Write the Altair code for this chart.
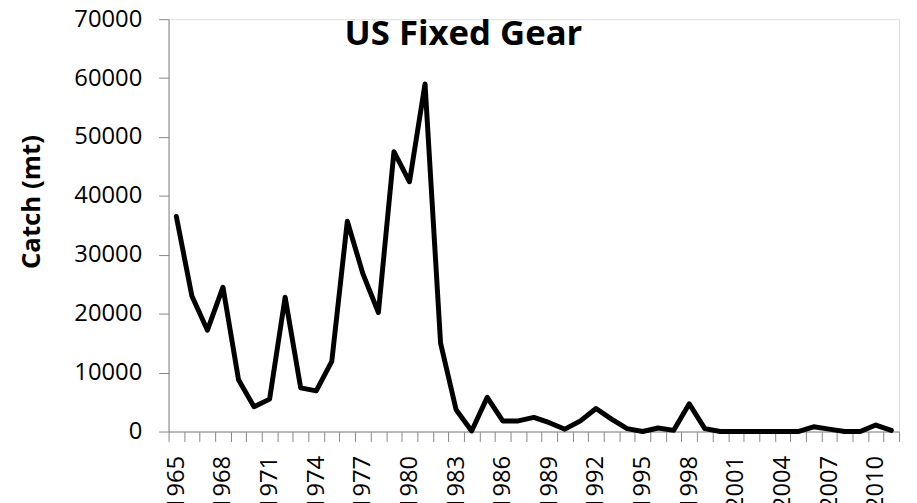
import altair as alt
import pandas as pd

years = list(range(1965, 2012))
catch_mt = [36500, 23000, 17200, 24500, 8800, 4200, 5500, 22800, 7400, 6900,
            11900, 35700, 26800, 20200, 47500, 42400, 59000, 15000, 3700, 100,
            5800, 1800, 1800, 2400, 1500, 400, 1800, 3900, 2100, 500,
            0, 600, 200, 4700, 500, 0, 0, 0, 0, 0,
            0, 800, 400, 0, 0, 1100, 200]
y_ticks = [0, 10000, 20000, 30000, 40000, 50000, 60000, 70000]
x_boundaries = [y - 0.5 for y in years] + [years[-1] + 0.5]
x_labels = list(range(1965, 2011, 3))

df = pd.DataFrame({"Year": years, "Catch": catch_mt})

FONT = "Open Sans"
GREY = "#868686"

chart = alt.Chart(df).mark_line(
    color="black", strokeWidth=5, strokeJoin="round", strokeCap="round"
).encode(
    x=alt.X("Year:Q",
            scale=alt.Scale(domain=[years[0] - 0.5, years[-1] + 0.5], nice=False, zero=False),
            axis=alt.Axis(
                title=None,
                values=x_boundaries + x_labels,
                format=".0f",
                labelOpacity={"condition": {"test": "datum.value % 1 == 0", "value": 1}, "value": 0},
                tickOpacity={"condition": {"test": "datum.value % 1 != 0", "value": 1}, "value": 0},
                labelAngle=-90,
                labelAlign="right",
                labelBaseline="middle",
                labelOverlap=False,
                labelFlush=False,
                labelFont=FONT, labelFontSize=24, labelColor="black",
                labelPadding=14,
                tickSize=10, tickColor=GREY, domainColor=GREY,
                grid=False,
            )),
    y=alt.Y("Catch:Q",
            scale=alt.Scale(domain=[0, 70000], nice=False),
            axis=alt.Axis(
                title="Catch (mt)",
                values=y_ticks,
                format="d",
                labelFont=FONT, labelFontSize=24, labelColor="black",
                labelPadding=17,
                tickSize=10, tickColor=GREY, domainColor=GREY,
                titleFont=FONT, titleFontSize=26, titleFontWeight="bold",
                titleColor="black",
                titleX=-138, titleY=184, titleBaseline="middle",
                grid=False,
            )),
).properties(
    width=737,
    height=416,
    title=alt.TitleParams("US Fixed Gear", font=FONT, fontSize=35, fontWeight="bold",
                          color="black", anchor="middle", dx=-71, dy=77,
                          baseline="alphabetic"),
    autosize=alt.AutoSizeParams(type="none"),
    padding={"left": 162, "top": 9, "right": 10, "bottom": 90},
).configure_view(stroke=None).configure(background="white")

chart.save("out.html", embed_options={"renderer": "svg", "actions": False})
